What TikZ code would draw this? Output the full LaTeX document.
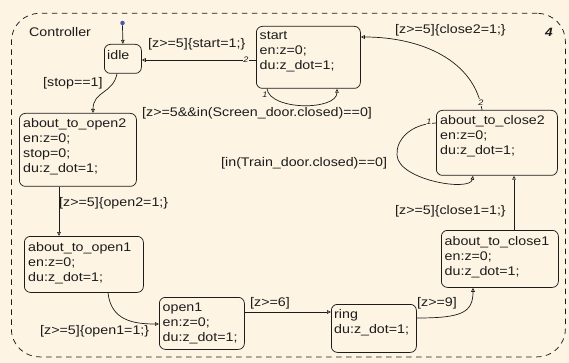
\documentclass[tikz,border=0pt]{standalone}
\usepackage{fontspec}
\setmainfont{Liberation Sans}[FakeStretch=1.14]
\usetikzlibrary{arrows.meta,calc}
\definecolor{paper}{RGB}{253,244,227}
\definecolor{ink}{RGB}{28,28,28}
\definecolor{dotblue}{RGB}{72,88,170}
\newcommand\sfs{\fontsize{12.5}{15}\selectfont}
% stacked action lines, first baseline = node baseline
\newcommand\stlines[1]{\vtop{\baselineskip=15pt\lineskiplimit=-20pt\relax #1}}
\tikzset{
  statebox/.style={draw=ink, line width=0.75pt, rounded corners=6pt, inner sep=0,
    anchor=north west},
  txt/.style={anchor=base west, inner sep=0, font=\sfs, text=ink},
  pri/.style={inner sep=0.6pt, font=\fontsize{8}{8}\selectfont\itshape, text=ink},
  tr/.style={draw=ink, line width=0.7pt,
    -{Triangle[open,length=4pt,width=3.6pt]}},
}
\begin{document}
\begin{tikzpicture}[x=1pt,y=-1pt]
\fill[paper] (0,0) rectangle (569,363);
\useasboundingbox (0,0) rectangle (569,363);

% superstate
\node[draw=ink, line width=0.75pt, dash pattern=on 5.5pt off 4.5pt, rounded corners=28pt,
  anchor=north west, inner sep=0, minimum width=554pt, minimum height=343.5pt]
  (ctrl) at (11,13) {};
\node[txt] (ctrl-name) at (29,37) {Controller};
\node[anchor=base west, inner sep=0, font=\fontsize{12}{12}\selectfont\bfseries\itshape, text=ink]
  (ctrl-num) at (545,37) {4};

% states
\node[statebox, minimum width=37pt,  minimum height=29pt] (idle)  at (104,44) {};
\node[statebox, minimum width=104pt, minimum height=62pt] (start) at (256,26) {};
\node[statebox, minimum width=117pt, minimum height=73pt] (o2)    at (19,113) {};
\node[statebox, minimum width=119pt, minimum height=56pt] (o1)    at (24,236) {};
\node[statebox, minimum width=85pt,  minimum height=52pt] (open1) at (159,297) {};
\node[statebox, minimum width=85pt,  minimum height=48pt] (ring)  at (331,304) {};
\node[statebox, minimum width=117pt, minimum height=57pt] (c1)    at (441,230) {};
\node[statebox, minimum width=121pt, minimum height=65pt] (c2)    at (436,110) {};

% state texts
\node[txt] (idle-t)  at ($(idle.north west)+(3,15.5)$) {idle};
\node[txt] (start-t) at ($(start.north west)+(3.5,14)$)
  {\stlines{\hbox{start}\hbox{en:z=0;}\hbox{du:z\_dot=1;}}};
\node[txt] (o2-t) at ($(o2.north west)+(4,15)$)
  {\stlines{\hbox{about\_to\_open2}\hbox{en:z=0;}\hbox{stop=0;}\hbox{du:z\_dot=1;}}};
\node[txt] (o1-t) at ($(o1.north west)+(4,15)$)
  {\stlines{\hbox{about\_to\_open1}\hbox{en:z=0;}\hbox{du:z\_dot=1;}}};
\node[txt] (open1-t) at ($(open1.north west)+(3.5,14.5)$)
  {\stlines{\hbox{open1}\hbox{en:z=0;}\hbox{du:z\_dot=1;}}};
\node[txt] (ring-t) at ($(ring.north west)+(3,14.5)$)
  {\stlines{\hbox{ring}\hbox{du:z\_dot=1;}}};
\node[txt] (c1-t) at ($(c1.north west)+(3.5,15)$)
  {\stlines{\hbox{about\_to\_close1}\hbox{en:z=0;}\hbox{du:z\_dot=1;}}};
\node[txt] (c2-t) at ($(c2.north west)+(4,15)$)
  {\stlines{\hbox{about\_to\_close2}\hbox{en:z=0;}\hbox{du:z\_dot=1;}}};

% default transition
\node[circle, fill=dotblue, inner sep=0, minimum size=4.5pt] (init) at (122.5,23) {};
\draw[tr] (init.south) -- (idle.north);

% start -> idle
\draw[tr] ($(start.north west)+(0,34)$) -- ($(idle.north east)+(0,16)$);
\node[pri, fill=paper] (p-si) at (246,60) {2};
\node[txt] (l-si) at (148,47.5) {[z>=5]\{start=1;\}};

% start self loop
\draw[tr] ($(start.south west)+(11,0)$) .. controls +(3,22) and +(0,22) .. ($(start.south west)+(81,0)$);
\node[pri] (p-ss) at (265,95) {1};
\node[txt] (l-ss) at (142,117) {[z>=5\&\&in(Screen\_door.closed)==0]};

% about_to_close2 -> start
\draw[tr] ($(c2.north west)+(46,0)$) .. controls +(-8,-50) and +(60,0) .. ($(start.north east)+(0,11)$);
\node[pri, fill=paper] (p-cs) at (481,102.5) {2};
\node[txt] (l-cs) at (395,34) {[z>=5]\{close2=1;\}};

% about_to_close2 self loop
\draw[tr] ($(c2.north west)+(0,13)$) .. controls (410,124) and (396,140) .. (397,155)
  .. controls (398,180) and (470,192) .. ($(c2.south west)+(37,0)$);
\node[pri, fill=paper] (p-cc) at (429,122) {1};
\node[txt] (l-cc) at (221,167) {[in(Train\_door.closed)==0]};

% about_to_close1 -> about_to_close2
\draw[tr] ($(c1.north west)+(73,0)$) -- ($(c2.south west)+(78,0)$);
\node[txt] (l-c1) at (395,214) {[z>=5]\{close1=1;\}};

% ring -> about_to_close1
\draw[tr] ($(ring.north east)+(0,14)$) .. controls +(45,0) and +(0,25) .. ($(c1.south west)+(32,0)$);
\node[txt] (l-rc) at (417,306) {[z>=9]};

% open1 -> ring
\draw[tr] ($(open1.north east)+(0,15)$) -- ($(ring.north west)+(0,8)$);
\node[txt] (l-or) at (250,306) {[z>=6]};

% about_to_open1 -> open1
\draw[tr] ($(o1.south west)+(84,0)$) .. controls +(3,28) and +(-25,0) .. ($(open1.north west)+(0,27)$);
\node[txt] (l-oo) at (40,334) {[z>=5]\{open1=1;\}};

% about_to_open2 -> about_to_open1
\draw[tr] ($(o2.south west)+(40,0)$) -- ($(o1.north west)+(35,0)$);
\node[txt] (l-o21) at (59,206) {[z>=5]\{open2=1;\}};

% idle -> about_to_open2
\draw[tr] ($(idle.south west)+(13,0)$) .. controls +(-4,20) and +(0,-22) .. ($(o2.north west)+(74,0)$);
\node[txt] (l-io) at (43,87) {[stop==1]};
\end{tikzpicture}
\end{document}
